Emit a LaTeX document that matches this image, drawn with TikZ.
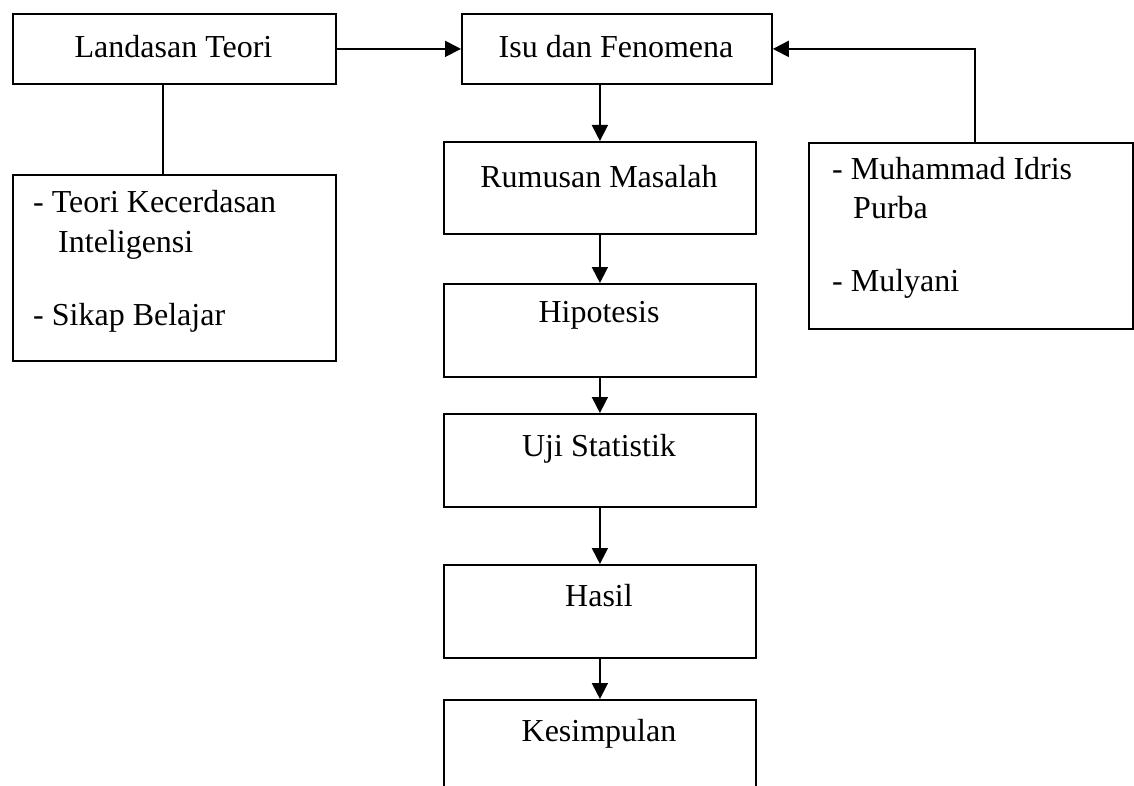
\documentclass[tikz,border=0pt]{standalone}
\usepackage{fontspec}
\setmainfont{Liberation Serif}
\usetikzlibrary{arrows.meta}
\begin{document}
\begin{tikzpicture}[x=1pt,y=-1pt,
 box/.style={draw, line width=1.8pt, inner sep=0pt, anchor=north west},
 txt/.style={inner sep=0pt, anchor=base, font=\fontsize{32}{38}\selectfont},
 ltxt/.style={txt, anchor=base west},
 arr/.style={line width=1.8pt, -{Triangle[length=16pt,width=16pt]}},
 ln/.style={line width=1.8pt}]
\useasboundingbox (0,0) rectangle (1134,786);
\fill[white] (0,0) rectangle (1134,786);
% boxes
\node[box, minimum width=323pt, minimum height=70pt] (lt) at (12,13) {};
\node[box, minimum width=310pt, minimum height=70pt] (isu) at (461,13) {};
\node[box, minimum width=323pt, minimum height=186pt] (tk) at (12,174) {};
\node[box, minimum width=312pt, minimum height=92pt] (rm) at (443,141) {};
\node[box, minimum width=312pt, minimum height=93pt] (hip) at (443,283) {};
\node[box, minimum width=312pt, minimum height=93pt] (uji) at (443,413) {};
\node[box, minimum width=312pt, minimum height=93pt] (hasil) at (443,564) {};
\node[box, minimum width=312pt, minimum height=120pt] (kes) at (443,699) {};
\node[box, minimum width=324pt, minimum height=186pt] (mu) at (808,142) {};
% texts
\node[txt] (ltT) at (173.5,58) {Landasan Teori};
\node[txt] (isuT) at (616,58) {Isu dan Fenomena};
\node[txt] (rmT) at (599,188) {Rumusan Masalah};
\node[txt] (hipT) at (599,322) {Hipotesis};
\node[txt] (ujiT) at (599,456) {Uji Statistik};
\node[txt] (hasilT) at (599,606) {Hasil};
\node[txt] (kesT) at (599,741) {Kesimpulan};
\node[ltxt] (tk1) at (33,213) {- Teori Kecerdasan};
\node[ltxt] (tk2) at (58,252) {Inteligensi};
\node[ltxt] (tk3) at (33,325) {- Sikap Belajar};
\node[ltxt] (mu1) at (832,180) {- Muhammad Idris};
\node[ltxt] (mu2) at (853,219) {Purba};
\node[ltxt] (mu3) at (832,291) {- Mulyani};
% connectors
\draw[arr] (lt.east) -- (isu.west);
\draw[arr] (rm.north |- isu.south) -- (rm.north);
\draw[arr] (rm.south) -- (hip.north);
\draw[arr] (hip.south) -- (uji.north);
\draw[arr] (uji.south) -- (hasil.north);
\draw[arr] (hasil.south) -- (kes.north);
\coordinate (c1) at (163,0);
\draw[ln] (lt.south -| c1) -- (tk.north -| c1);
\coordinate (c2) at (975,0);
\draw[arr] (mu.north -| c2) |- (isu.east);
\end{tikzpicture}
\end{document}
